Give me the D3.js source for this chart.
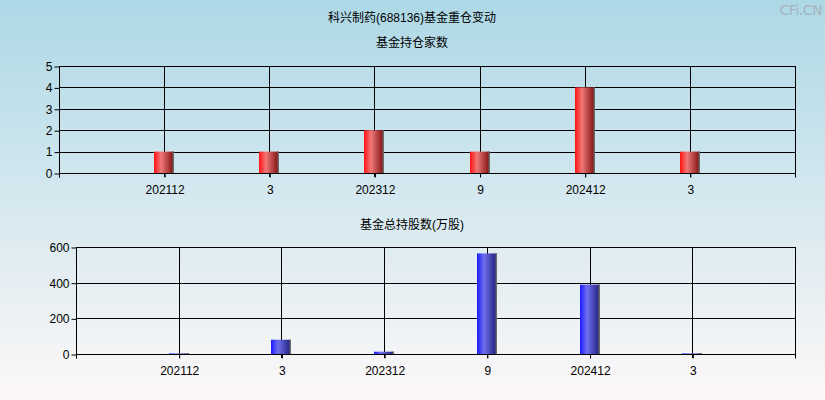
<!DOCTYPE html>
<html><head><meta charset="utf-8">
<script src="https://cdn.jsdelivr.net/npm/d3@7"></script>
<style>body{margin:0;padding:0;overflow:hidden}svg{display:block}</style>
</head><body>
<script>
const categories = ["202112","3","202312","9","202412","3"];
const fundCounts = [1,1,2,1,4,1];
const fundShares = [3.5,80,13,564,389,3.5];
const countTicks = [0,1,2,3,4,5];
const shareTicks = [0,200,400,600];
const mainTitle = "科兴制药(688136)基金重仓变动";
const topTitle = "基金持仓家数";
const bottomTitle = "基金总持股数(万股)";

const W=825,H=400;
const svg=d3.select("body").append("svg").attr("width",W).attr("height",H);
const defs=svg.append("defs");
const bg=defs.append("linearGradient").attr("id","bg").attr("x1",0).attr("y1",0).attr("x2",0).attr("y2",1);
bg.append("stop").attr("offset","0%").attr("stop-color","#add8e6");
bg.append("stop").attr("offset","100%").attr("stop-color","#fdf8f8");
function barGrad(id,c0,c1,c2){
  const g=defs.append("linearGradient").attr("id",id).attr("x1",0).attr("y1",0).attr("x2",1).attr("y2",0);
  g.append("stop").attr("offset","0%").attr("stop-color",c0);
  g.append("stop").attr("offset","35%").attr("stop-color",c1);
  g.append("stop").attr("offset","100%").attr("stop-color",c2);
}
barGrad("red","#ff1010","#f07878","#7a0c0c");
barGrad("blue","#1a1aff","#7070ee","#1c1c7a");
svg.append("rect").attr("width",W).attr("height",H).attr("fill","url(#bg)");

const font="Arial, 'Liberation Sans', 'Noto Sans CJK SC', sans-serif";
svg.append("text").attr("x",412).attr("y",22).attr("text-anchor","middle").attr("font-family",font).attr("font-size",12).text(mainTitle);
svg.append("text").attr("x",822).attr("y",15).attr("text-anchor","end").attr("font-family","'DejaVu Sans', sans-serif").attr("font-size",14).attr("fill","#a6b4ba").attr("letter-spacing","-0.5").text("CFi.CN");

function panel(opt){
  const {left,right,top,bottom,max,ticks,values,fill,title,titleY}=opt;
  const g=svg.append("g");
  g.append("text").attr("x",412).attr("y",titleY).attr("text-anchor","middle").attr("font-family",font).attr("font-size",12).text(title);
  const x=d3.scaleLinear().domain([0,categories.length+1]).range([left,right]);
  const y=d3.scaleLinear().domain([0,max]).range([bottom,top]);
  g.selectAll(".hg").data(ticks).join("line").attr("x1",left).attr("x2",right)
    .attr("y1",d=>Math.round(y(d))+0.5).attr("y2",d=>Math.round(y(d))+0.5).attr("stroke","#000");
  g.selectAll(".vg").data(categories).join("line")
    .attr("x1",(d,i)=>Math.round(x(i+1))+0.5).attr("x2",(d,i)=>Math.round(x(i+1))+0.5)
    .attr("y1",top).attr("y2",bottom+4).attr("stroke","#000");
  g.append("line").attr("x1",Math.round(right)+0.5).attr("x2",Math.round(right)+0.5).attr("y1",top).attr("y2",bottom+4).attr("stroke","#000");
  const bw=20;
  const bars=g.selectAll(".bar").data(values).join("g");
  bars.append("rect").attr("x",(d,i)=>Math.round(x(i+1))-10).attr("width",bw)
    .attr("y",d=>y(d)).attr("height",d=>bottom-y(d)).attr("fill",`url(#${fill})`);
  bars.append("rect").attr("x",(d,i)=>Math.round(x(i+1))-10+bw-1.5).attr("width",1.5)
    .attr("y",d=>y(d)).attr("height",d=>bottom-y(d)).attr("fill","#6a6a6a");
  const ya=d3.axisLeft(y).tickValues(ticks).tickSize(5).tickPadding(2).tickFormat(d3.format("d"));
  const yg=g.append("g").attr("transform",`translate(${Math.round(left)+0.5},0.5)`).call(ya);
  yg.select(".domain").attr("d",`M0,${top-0.5}V${bottom+4}`).attr("stroke","#000");
  yg.selectAll("line").attr("stroke","#000");
  yg.selectAll("text").attr("font-family",font).attr("font-size",12).attr("fill","#000");
  const xa=d3.axisBottom(x).tickValues(d3.range(1,categories.length+1)).tickSize(4).tickPadding(8).tickFormat(d=>categories[d-1]);
  const xg=g.append("g").attr("transform",`translate(0.5,${Math.round(bottom)+0.5})`).call(xa);
  xg.select(".domain").attr("d",`M${left},4V0H${right}V4`).attr("stroke","#000");
  xg.selectAll("line").attr("stroke","#000");
  xg.selectAll("text").attr("font-family",font).attr("font-size",12).attr("fill","#000");
}
panel({left:59,right:795,top:66,bottom:173,max:5,ticks:countTicks,values:fundCounts,fill:"red",title:topTitle,titleY:47});
panel({left:76,right:795,top:247,bottom:354,max:600,ticks:shareTicks,values:fundShares,fill:"blue",title:bottomTitle,titleY:229});
</script>
</body></html>
